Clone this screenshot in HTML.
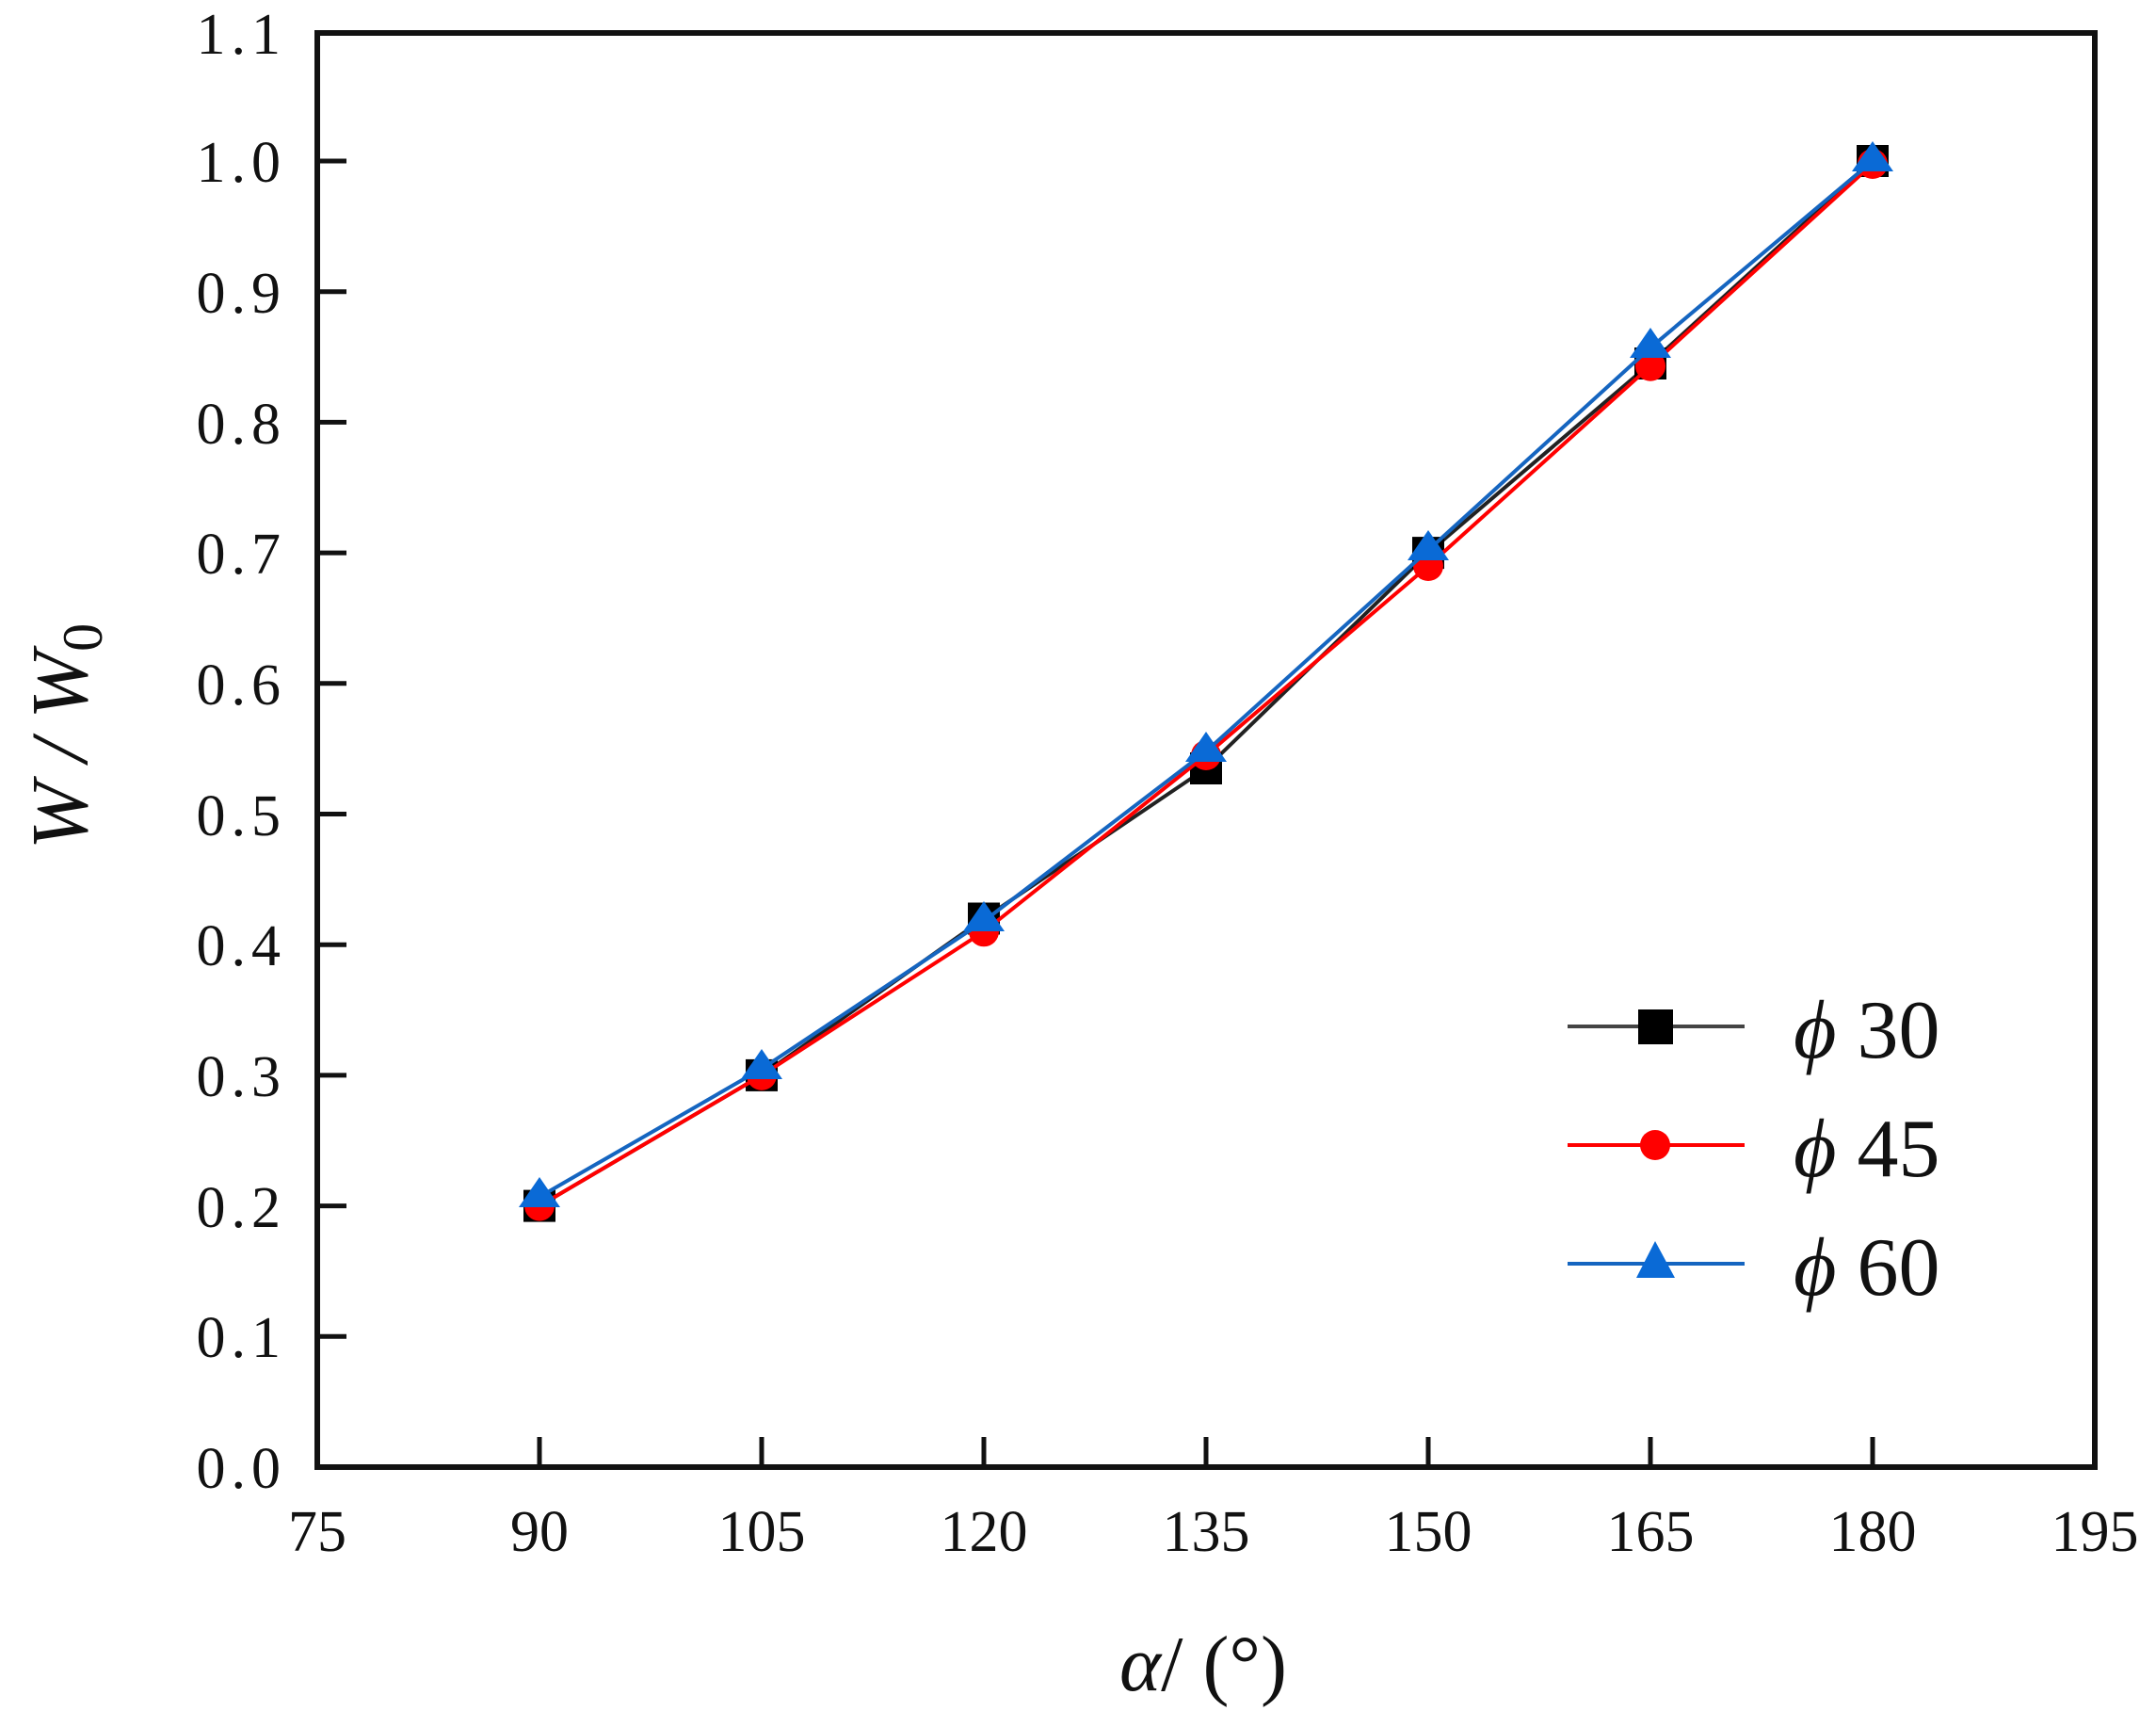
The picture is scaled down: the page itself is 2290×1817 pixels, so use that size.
<!DOCTYPE html>
<html><head><meta charset="utf-8"><style>
html,body{margin:0;padding:0;background:#fff;}
svg{display:block;}
text{font-family:"Liberation Serif",serif;fill:#111;}
</style></head><body>
<svg width="2290" height="1817" viewBox="0 0 2290 1817" xmlns="http://www.w3.org/2000/svg">
<rect width="2290" height="1817" fill="#fff"/>
<rect x="337" y="35" width="1888" height="1523" fill="none" stroke="#111" stroke-width="6"/>
<g stroke="#111" stroke-width="5">
<line x1="337" y1="1419.3" x2="368" y2="1419.3"/>
<line x1="337" y1="1280.6" x2="368" y2="1280.6"/>
<line x1="337" y1="1141.9" x2="368" y2="1141.9"/>
<line x1="337" y1="1003.2" x2="368" y2="1003.2"/>
<line x1="337" y1="864.5" x2="368" y2="864.5"/>
<line x1="337" y1="725.8" x2="368" y2="725.8"/>
<line x1="337" y1="587.1" x2="368" y2="587.1"/>
<line x1="337" y1="448.4" x2="368" y2="448.4"/>
<line x1="337" y1="309.7" x2="368" y2="309.7"/>
<line x1="337" y1="171" x2="368" y2="171"/>
<line x1="573" y1="1558" x2="573" y2="1526"/>
<line x1="809" y1="1558" x2="809" y2="1526"/>
<line x1="1045" y1="1558" x2="1045" y2="1526"/>
<line x1="1281" y1="1558" x2="1281" y2="1526"/>
<line x1="1517" y1="1558" x2="1517" y2="1526"/>
<line x1="1753" y1="1558" x2="1753" y2="1526"/>
<line x1="1989" y1="1558" x2="1989" y2="1526"/>
</g>
<g font-size="62" text-anchor="end" letter-spacing="6">
<text x="304" y="1580">0.0</text>
<text x="304" y="1441">0.1</text>
<text x="304" y="1303">0.2</text>
<text x="304" y="1164">0.3</text>
<text x="304" y="1025">0.4</text>
<text x="304" y="887">0.5</text>
<text x="304" y="748">0.6</text>
<text x="304" y="609">0.7</text>
<text x="304" y="471">0.8</text>
<text x="304" y="332">0.9</text>
<text x="304" y="193">1.0</text>
<text x="304" y="57">1.1</text>
</g>
<g font-size="62" text-anchor="middle">
<text x="337" y="1647">75</text>
<text x="573" y="1647">90</text>
<text x="809" y="1647">105</text>
<text x="1045" y="1647">120</text>
<text x="1281" y="1647">135</text>
<text x="1517" y="1647">150</text>
<text x="1753" y="1647">165</text>
<text x="1989" y="1647">180</text>
<text x="2225" y="1647">195</text>
</g>
<text x="1278" y="1795" font-size="84" text-anchor="middle"><tspan font-style="italic">α</tspan>/ (°)</text>
<text transform="translate(92,782) rotate(-90)" font-size="86" text-anchor="middle" font-style="italic">W / W<tspan font-size="60" dy="16" font-style="normal">0</tspan></text>
<polyline fill="none" stroke="#222" stroke-width="4" points="573,1280.6 809,1141.9 1045,975.5 1281,816 1517,587.1 1753,386 1989,171"/>
<g fill="#000">
<rect x="556" y="1263.6" width="34" height="34"/>
<rect x="792" y="1124.9" width="34" height="34"/>
<rect x="1028" y="958.5" width="34" height="34"/>
<rect x="1264" y="799" width="34" height="34"/>
<rect x="1500" y="570.1" width="34" height="34"/>
<rect x="1736" y="369" width="34" height="34"/>
<rect x="1972" y="154" width="34" height="34"/>
</g>
<polyline fill="none" stroke="#f00" stroke-width="4" points="573,1280.6 809,1141.9 1045,989.3 1281,802 1517,601 1753,388.7 1989,174"/>
<g fill="#f00">
<circle cx="573" cy="1280.6" r="16"/>
<circle cx="809" cy="1141.9" r="16"/>
<circle cx="1045" cy="989.3" r="16"/>
<circle cx="1281" cy="802" r="16"/>
<circle cx="1517" cy="601" r="16"/>
<circle cx="1753" cy="388.7" r="16"/>
<circle cx="1989" cy="174" r="16"/>
</g>
<polyline fill="none" stroke="#1565c0" stroke-width="4" points="573,1271 809,1135 1045,978.2 1281,798 1517,584.3 1753,369.3 1989,171"/>
<g fill="#0a6ad6">
<polygon points="573,1250 551,1282 595,1282"/>
<polygon points="809,1114 787,1146 831,1146"/>
<polygon points="1045,957 1023,989 1067,989"/>
<polygon points="1281,777 1259,809 1303,809"/>
<polygon points="1517,563 1495,595 1539,595"/>
<polygon points="1753,348 1731,380 1775,380"/>
<polygon points="1989,150 1967,182 2011,182"/>
</g>
<line x1="1665" y1="1090" x2="1853" y2="1090" stroke="#444" stroke-width="4"/>
<rect x="1740" y="1072" width="37" height="37" fill="#000"/>
<line x1="1665" y1="1216" x2="1853" y2="1216" stroke="#f00" stroke-width="4"/>
<circle cx="1758" cy="1216" r="16" fill="#f00"/>
<line x1="1665" y1="1342" x2="1853" y2="1342" stroke="#1565c0" stroke-width="4"/>
<polygon points="1758,1318 1738,1357 1779,1357" fill="#0a6ad6"/>
<g font-size="88">
<text x="1905" y="1123"><tspan font-style="italic">ϕ</tspan> 30</text>
<text x="1905" y="1249"><tspan font-style="italic">ϕ</tspan> 45</text>
<text x="1905" y="1375"><tspan font-style="italic">ϕ</tspan> 60</text>
</g>
</svg>
</body></html>
